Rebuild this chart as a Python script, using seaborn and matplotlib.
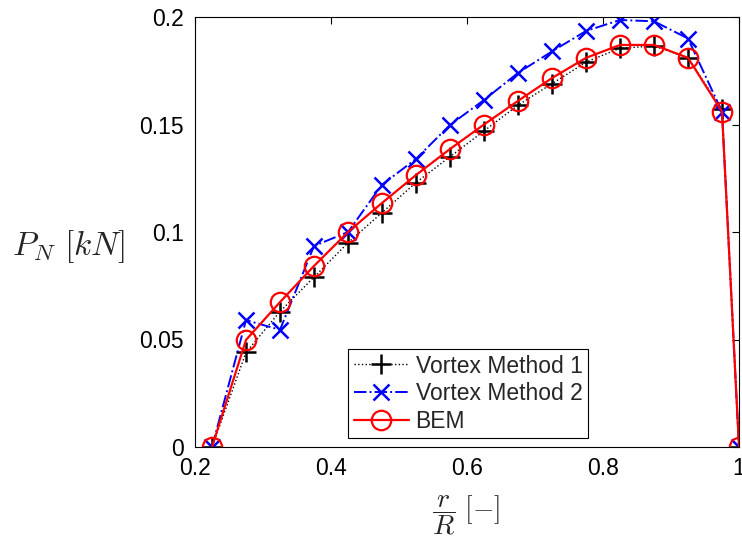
import matplotlib
matplotlib.use("Agg")
import matplotlib.pyplot as plt
import seaborn as sns
import numpy as np

r_R = [0.225, 0.275, 0.325, 0.375, 0.425, 0.475, 0.525, 0.575, 0.625,
       0.675, 0.725, 0.775, 0.825, 0.875, 0.925, 0.975, 1.0]
vortex1 = [0.0, 0.044, 0.063, 0.079, 0.095, 0.109, 0.123, 0.135, 0.147,
           0.159, 0.169, 0.179, 0.1855, 0.1865, 0.181, 0.157, 0.0]
vortex2 = [0.0, 0.059, 0.0545, 0.0935, 0.100, 0.122, 0.134, 0.1498, 0.1614,
           0.174, 0.184, 0.1935, 0.1986, 0.198, 0.190, 0.156, 0.0]
bem = [0.0, 0.0498, 0.0674, 0.0842, 0.100, 0.1135, 0.1265, 0.1386, 0.150,
       0.161, 0.1716, 0.181, 0.187, 0.187, 0.181, 0.156, 0.0]

xticks = [0.2, 0.4, 0.6, 0.8, 1.0]
xticklabels = ["0.2", "0.4", "0.6", "0.8", "1"]
yticks = [0, 0.05, 0.1, 0.15, 0.2]
yticklabels = ["0", "0.05", "0.1", "0.15", "0.2"]

sns.set_style("white")
plt.rcParams["font.family"] = ["Liberation Sans", "DejaVu Sans"]
plt.rcParams["mathtext.fontset"] = "cm"

fig = plt.figure(figsize=(7.42, 5.44), dpi=100)
ax = fig.add_axes([195 / 742, 1 - 447 / 544, (739 - 195) / 742, (447 - 17) / 544])

sns.lineplot(x=r_R, y=vortex1, ax=ax, color="black", linestyle=":", linewidth=1.0,
             marker="+", markersize=14, markeredgewidth=1.8, markeredgecolor="black",
             label="Vortex Method 1")
sns.lineplot(x=r_R, y=vortex2, ax=ax, color="blue", linestyle="-.", linewidth=1.4,
             marker="x", markersize=11, markeredgewidth=1.8, markeredgecolor="blue",
             label="Vortex Method 2")
sns.lineplot(x=r_R, y=bem, ax=ax, color="red", linestyle="-", linewidth=1.6,
             marker="o", markersize=14, markeredgewidth=1.6, markerfacecolor="none",
             markeredgecolor="red", label="BEM")

ax.set_xlim(0.2, 1.0)
ax.set_ylim(0, 0.2)
ax.set_xticks(xticks)
ax.set_xticklabels(xticklabels)
ax.set_yticks(yticks)
ax.set_yticklabels(yticklabels)
ax.tick_params(direction="in", top=True, right=True, length=5, width=0.8,
               labelsize=16.5, colors="black")
ax.tick_params(axis="x", pad=7)
ax.tick_params(axis="y", pad=8)
for s in ax.spines.values():
    s.set_color("black")
    s.set_linewidth(0.8)

ax.set_xlabel(r"$\dfrac{r}{R}\ [-]$", fontsize=20)
ax.xaxis.set_label_coords(0.498, -0.158)
ax.xaxis.label.set_va("center")
ax.set_ylabel(r"$P_N\ [kN]$", fontsize=24, rotation=0, va="center", ha="center")
ax.yaxis.set_label_coords(-0.232, 0.467)

leg = ax.legend(loc="lower center", bbox_to_anchor=(0.502, 0.02), fontsize=16.5,
                frameon=True, fancybox=False, framealpha=1, edgecolor="black",
                handlelength=2.4, borderpad=0.25, labelspacing=0.2, handletextpad=0.3,
                borderaxespad=0.0)
leg.get_frame().set_linewidth(0.8)

fig.savefig("out.png", dpi=100)
